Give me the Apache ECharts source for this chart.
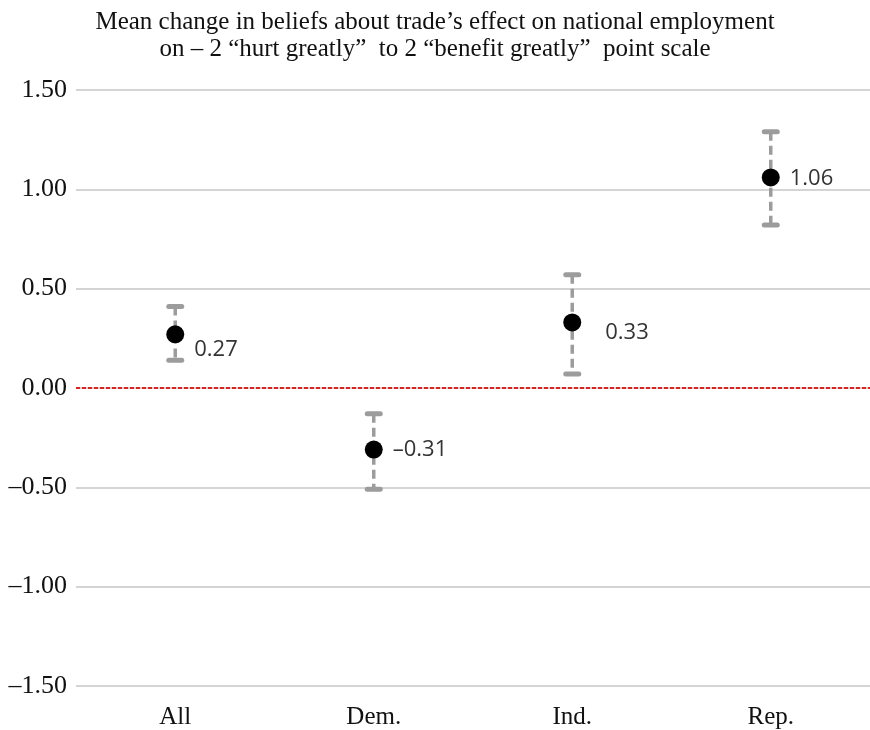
<!DOCTYPE html>
<html>
<head>
<meta charset="utf-8">
<script src="https://cdn.jsdelivr.net/npm/echarts@6/dist/echarts.min.js"></script>
<style>
  html, body { margin: 0; padding: 0; background: #fff; }
  #chart { width: 870px; height: 730px; }
</style>
</head>
<body>
<div id="chart"></div>
<script>
// Party groups and the mean change with its confidence interval
const categories = ['All', 'Dem.', 'Ind.', 'Rep.'];
const means = [0.27, -0.31, 0.33, 1.06];
const lower = [0.14, -0.51, 0.07, 0.82];
const upper = [0.41, -0.13, 0.57, 1.29];

// Value-axis range and step
const yMin = -1.5;
const yMax = 1.5;
const yStep = 0.5;

// Nudges for the value labels beside each dot
const labelShift = [[0, 15], [0, 0], [14, 10], [0, 1]];

const serif = '"Liberation Serif", "DejaVu Serif", serif';
const sans = '"Open Sans", "Liberation Sans", sans-serif';
const barColor = '#9C9C9C';

function fmt(v) {
  return (v < 0 ? '\u2013' : '') + Math.abs(v).toFixed(2);
}

const chart = echarts.init(document.getElementById('chart'), null, { renderer: 'canvas' });

chart.setOption({
  backgroundColor: '#ffffff',
  animation: false,
  title: {
    text: 'Mean change in beliefs about trade\u2019s effect on national employment\non \u2013 2 \u201churt greatly\u201d  to 2 \u201cbenefit greatly\u201d  point scale',
    left: 'center',
    top: 4,
    textStyle: {
      fontFamily: serif,
      fontSize: 25,
      fontWeight: 'normal',
      color: '#111',
      lineHeight: 27,
      align: 'center'
    }
  },
  grid: { left: 76, right: 0, top: 90, bottom: 42, containLabel: false },
  xAxis: {
    type: 'category',
    data: categories,
    axisLine: { show: false },
    axisTick: { show: false },
    axisLabel: {
      fontFamily: serif,
      fontSize: 25,
      color: '#111',
      margin: 19
    },
    splitLine: { show: false }
  },
  yAxis: {
    type: 'value',
    min: yMin,
    max: yMax,
    interval: yStep,
    axisLine: { show: false },
    axisTick: { show: false },
    axisLabel: {
      fontFamily: serif,
      fontSize: 26,
      color: '#111',
      margin: 9,
      formatter: fmt
    },
    splitLine: { lineStyle: { color: '#C6C6C6', width: 1.5 } }
  },
  series: [
    {
      type: 'custom',
      z: 2,
      data: categories.map((c, i) => [i, lower[i], upper[i]]),
      encode: { x: 0, y: [1, 2] },
      renderItem: function (params, api) {
        const i = api.value(0);
        const lo = api.coord([i, api.value(1)]);
        const hi = api.coord([i, api.value(2)]);
        const cap = 6.5;
        return {
          type: 'group',
          children: [
            {
              type: 'line',
              shape: { x1: hi[0], y1: hi[1], x2: lo[0], y2: lo[1] },
              style: { stroke: barColor, lineWidth: 3.5, lineDash: [9, 5] }
            },
            {
              type: 'line',
              shape: { x1: hi[0] - cap, y1: hi[1], x2: hi[0] + cap, y2: hi[1] },
              style: { stroke: barColor, lineWidth: 5, lineCap: 'round' }
            },
            {
              type: 'line',
              shape: { x1: lo[0] - cap, y1: lo[1], x2: lo[0] + cap, y2: lo[1] },
              style: { stroke: barColor, lineWidth: 5, lineCap: 'round' }
            }
          ]
        };
      }
    },
    {
      type: 'scatter',
      z: 3,
      symbol: 'circle',
      symbolSize: 18,
      itemStyle: { color: '#000', opacity: 1 },
      emphasis: { disabled: true },
      data: means.map((v, i) => ({
        value: [i, v],
        label: { offset: labelShift[i] }
      })),
      label: {
        show: true,
        position: 'right',
        distance: 10,
        fontFamily: sans,
        fontSize: 22,
        color: '#333',
        formatter: p => fmt(p.value[1])
      },
      markLine: {
        silent: true,
        symbol: 'none',
        label: { show: false },
        lineStyle: { color: '#DD2222', width: 2, type: [4, 2] },
        data: [{ yAxis: 0 }]
      }
    }
  ]
});
</script>
</body>
</html>
